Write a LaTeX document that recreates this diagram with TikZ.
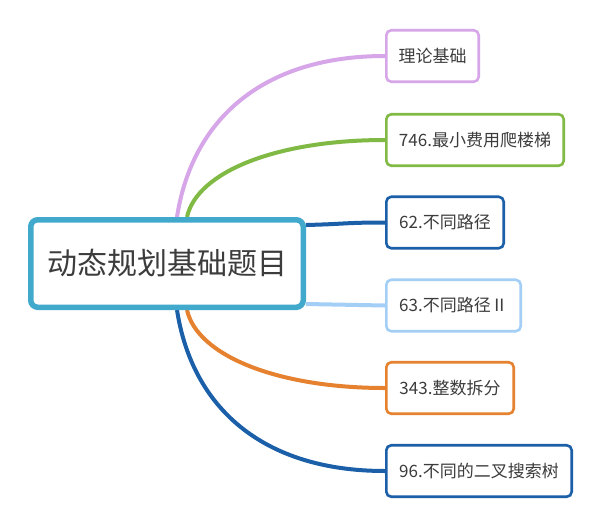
\documentclass[tikz,border=0pt]{standalone}
\usepackage{fontspec}
\setmainfont{Noto Sans CJK SC}
\usetikzlibrary{calc,backgrounds}
\definecolor{txt}{HTML}{3C3C3C}
\definecolor{topicc}{HTML}{40A9CC}
\definecolor{lav}{HTML}{D6A6E9}
\definecolor{grn}{HTML}{80BA45}
\definecolor{dblue}{HTML}{1A5FA8}
\definecolor{lblue}{HTML}{A3CFF7}
\definecolor{org}{HTML}{E5812F}
\begin{document}
\begin{tikzpicture}[x=1pt,y=-1pt,
  topic/.style={draw=topicc, line width=5.5pt, rounded corners=7pt, fill=white,
    minimum width=272.5pt, minimum height=87.5pt, inner sep=0pt,
    font=\fontsize{30}{35}\selectfont, text=txt},
  sub/.style={draw=#1, line width=2.6pt, rounded corners=5pt, fill=white,
    minimum height=51.5pt, inner sep=0pt,
    font=\fontsize{17}{20}\selectfont, text=txt},
  link/.style={draw=#1, line width=4pt}]
\useasboundingbox (0,0) rectangle (602,528);

\node[topic] (c) at (167,263.5) {动态规划基础题目};
\node[sub=lav, minimum width=92.4pt] (b1) at (432.5,56) {理论基础};
\node[sub=grn, minimum width=177.4pt] (b2) at (475,140) {746.最小费用爬楼梯};
\node[sub=dblue, minimum width=117.4pt] (b3) at (445,222.5) {62.不同路径};
\node[sub=lblue, minimum width=134.4pt] (b4) at (453.5,305.5) {63.不同路径Ⅱ};
\node[sub=org, minimum width=127.4pt] (b5) at (450,388) {343.整数拆分};
\node[sub=dblue, minimum width=185.4pt] (b6) at (479,471) {96.不同的二叉搜索树};

\begin{scope}[on background layer]
\fill[white] (0,0) rectangle (602,528);
\draw[link=lav] ($(c.north)+(10,0)$) .. controls +(15,-97) and +(-123,0) .. (b1.west);
\draw[link=grn] ($(c.north)+(20,0)$) .. controls +(10,-45) and +(-109,0) .. (b2.west);
\draw[link=dblue] ($(c.east)+(0,-38.5)$) .. controls +(40,-1) and +(-40,0) .. (b3.west);
\draw[link=lblue] ($(c.east)+(0,40.5)$) .. controls +(40,1) and +(-40,0) .. (b4.west);
\draw[link=org] ($(c.south)+(20,0)$) .. controls +(10,45) and +(-109,0) .. (b5.west);
\draw[link=dblue] ($(c.south)+(10,0)$) .. controls +(15,97) and +(-123,0) .. (b6.west);
\end{scope}
\end{tikzpicture}
\end{document}
